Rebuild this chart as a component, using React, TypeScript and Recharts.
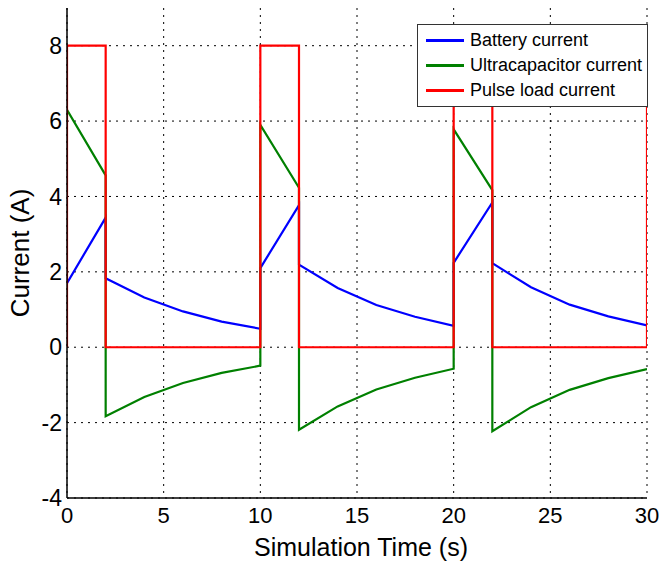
import React from "react";
import {
  CartesianGrid,
  Line,
  LineChart,
  XAxis,
  YAxis,
} from "recharts";

// time points (s) and currents (A)
const batteryTime = [0, 2, 2, 4, 6, 8, 10, 10, 12, 12, 14, 16, 18, 20, 20, 22, 22, 24, 26, 28, 30];
const batteryCurrent = [1.7, 3.44, 1.83, 1.32, 0.95, 0.68, 0.49, 2.1, 3.77, 2.19, 1.57, 1.12, 0.81, 0.57, 2.24, 3.84, 2.23, 1.59, 1.13, 0.82, 0.58];

const ultracapTime = [0, 2, 2, 4, 6, 8, 10, 10, 12, 12, 14, 16, 18, 20, 20, 22, 22, 24, 26, 28, 30];
const ultracapCurrent = [6.3, 4.56, -1.83, -1.32, -0.95, -0.68, -0.49, 5.9, 4.23, -2.19, -1.57, -1.12, -0.81, -0.57, 5.78, 4.17, -2.23, -1.59, -1.13, -0.82, -0.58];

const pulseTime = [0, 0, 2, 2, 10, 10, 12, 12, 20, 20, 22, 22, 30, 30];
const pulseCurrent = [0, 8, 8, 0, 0, 8, 8, 0, 0, 8, 8, 0, 0, 8];

const xTicks = [0, 5, 10, 15, 20, 25, 30];
const yTicks = [-4, -2, 0, 2, 4, 6, 8];

const seriesNames = ["Battery current", "Ultracapacitor current", "Pulse load current"];
const seriesColors = ["#0000ff", "#008000", "#ff0000"];

const toPoints = (xs: number[], ys: number[]) => xs.map((x, i) => ({ x, y: ys[i] }));

const batteryData = toPoints(batteryTime, batteryCurrent);
const ultracapData = toPoints(ultracapTime, ultracapCurrent);
const pulseData = toPoints(pulseTime, pulseCurrent);

const FONT = "'Liberation Sans', Arial, sans-serif";

// legend drawn as an overlay so it doesn't eat into the plot area
function LegendBox() {
  return (
    <div
      style={{
        position: "absolute",
        left: 417,
        top: 24,
        width: 231,
        height: 83,
        boxSizing: "border-box",
        background: "#fff",
        border: "1px solid #333",
        padding: "3px 0 0 8px",
        fontFamily: FONT,
        fontSize: 18,
        color: "#000",
      }}
    >
      {seriesNames.map((name, i) => (
        <div key={name} style={{ display: "flex", alignItems: "center", height: 25 }}>
          <span
            style={{
              display: "inline-block",
              width: 38,
              height: 3,
              background: seriesColors[i],
              marginRight: 6,
            }}
          />
          {name}
        </div>
      ))}
    </div>
  );
}

export default function App() {
  return (
    <div style={{ position: "absolute", left: 0, top: 0, width: 661, height: 563, background: "#fff" }}>
      <LineChart
        width={661}
        height={563}
        margin={{ top: 8, right: 14, left: 7, bottom: 3 }}
      >
        <CartesianGrid
          stroke="#000"
          strokeDasharray="2 5"
          strokeWidth={1}
          horizontalValues={yTicks}
          verticalValues={xTicks}
        />
        <XAxis
          dataKey="x"
          type="number"
          domain={[0, 30]}
          ticks={xTicks}
          allowDataOverflow
          stroke="#000"
          strokeWidth={1.5}
          tickSize={0}
          tickMargin={9}
          height={62}
          tick={{ fill: "#000", fontSize: 22, fontFamily: FONT }}
          label={{
            value: "Simulation Time (s)",
            position: "insideBottom",
            offset: 4,
            dx: 4,
            fill: "#000",
            fontSize: 25,
            fontFamily: FONT,
          }}
        />
        <XAxis
          xAxisId="top"
          dataKey="x"
          type="number"
          domain={[0, 30]}
          orientation="top"
          ticks={xTicks}
          tick={false}
          tickSize={0}
          height={0}
          stroke="#000"
          strokeWidth={1.5}
        />
        <YAxis
          type="number"
          domain={[-4, 9]}
          ticks={yTicks}
          allowDataOverflow
          stroke="#000"
          strokeWidth={1.5}
          tickSize={0}
          tickMargin={5}
          width={60}
          tick={{ fill: "#000", fontSize: 23, fontFamily: FONT }}
          label={{
            value: "Current (A)",
            angle: -90,
            position: "insideLeft",
            offset: 13,
            fill: "#000",
            fontSize: 26,
            fontFamily: FONT,
            style: { textAnchor: "middle" },
          }}
        />
        <YAxis
          yAxisId="right"
          type="number"
          domain={[-4, 9]}
          orientation="right"
          tick={false}
          tickSize={0}
          width={0}
          stroke="#000"
          strokeWidth={1.5}
        />
        <Line
          data={batteryData}
          dataKey="y"
          name={seriesNames[0]}
          stroke={seriesColors[0]}
          strokeWidth={2.2}
          dot={false}
          type="linear"
          isAnimationActive={false}
        />
        <Line
          data={ultracapData}
          dataKey="y"
          name={seriesNames[1]}
          stroke={seriesColors[1]}
          strokeWidth={2.2}
          dot={false}
          type="linear"
          isAnimationActive={false}
        />
        <Line
          data={pulseData}
          dataKey="y"
          name={seriesNames[2]}
          stroke={seriesColors[2]}
          strokeWidth={2.2}
          dot={false}
          type="linear"
          isAnimationActive={false}
        />
      </LineChart>
      <LegendBox />
    </div>
  );
}
